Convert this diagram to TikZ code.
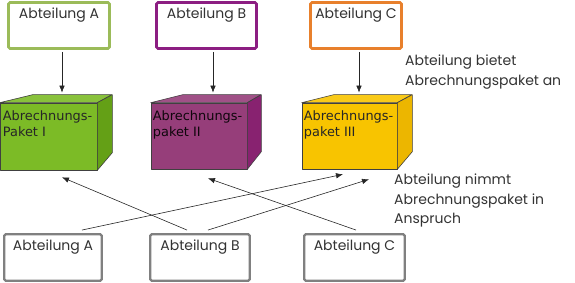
\documentclass[tikz,border=0pt]{standalone}
\usepackage{fontspec}
\usetikzlibrary{arrows.meta,calc}
\newfontfamily\cubefont{DejaVu Sans}
\newfontfamily\advfont{Poppins}
\definecolor{cgreen}{RGB}{155,187,89}
\definecolor{cpurple}{RGB}{140,30,130}
\definecolor{corange}{RGB}{232,128,44}
\definecolor{cgray}{RGB}{128,128,128}
\definecolor{gfront}{RGB}{124,187,38}
\definecolor{gside}{RGB}{100,160,22}
\definecolor{pfront}{RGB}{150,62,122}
\definecolor{pside}{RGB}{136,34,112}
\definecolor{yfront}{RGB}{248,196,0}
\definecolor{yside}{RGB}{236,182,0}
\tikzset{
  abtbox/.style={draw, rounded corners=1.5pt, fill=white, inner xsep=0pt, inner ysep=3pt,
    text height=13pt, text depth=27pt, align=center, text=black!80,
    font=\advfont\fontsize{14}{16}\selectfont},
  topbox/.style={abtbox, line width=2.8pt},
  botbox/.style={abtbox, draw=cgray, line width=2.4pt, text depth=27.5pt},
  face/.style={draw=black!75, line width=0.6pt, line join=round},
  cubetext/.style={anchor=north west, inner sep=0pt, align=left, text=black!85,
    font=\cubefont\fontsize{12.9}{15.5}\selectfont},
  arr/.style={-{Latex[length=7pt,width=5.5pt]}, line width=0.6pt, draw=black!85},
  lbl/.style={anchor=north west, inner sep=0pt, align=left, text=black!80,
    font=\advfont\fontsize{14}{19.5}\selectfont}
}
\begin{document}
\begin{tikzpicture}[x=1pt,y=-1pt]
\useasboundingbox (0,0) rectangle (575,283);
% top boxes
\node[topbox, draw=cgreen, minimum width=101pt] (tA) at (59,25.5) {Abteilung A};
\node[topbox, draw=cpurple, minimum width=100pt] (tB) at (206.5,25.5) {Abteilung B};
\node[topbox, draw=corange, minimum width=91pt] (tC) at (356,25.5) {Abteilung C};
% cubes: front faces as nodes
\node[face, fill=gfront, minimum width=97pt, minimum height=67pt, inner sep=0pt] (fI) at (48.5,136.5) {};
\filldraw[face, fill=gfront!90!white] (fI.north west) -- ++(33,-8) -- ++(79,0) -- (fI.north east) -- cycle;
\filldraw[face, fill=gside] (fI.north east) -- ++(15,-8) -- ++(0,58) -- (fI.south east) -- cycle;
\node[cubetext] (xI) at ($(fI.north west)+(3,8)$) {Abrechnungs-\\Paket I};

\node[face, fill=pfront, minimum width=96pt, minimum height=66pt, inner sep=0pt] (fII) at (199,136) {};
\filldraw[face, fill=pfront!90!white] (fII.north west) -- ++(32,-8) -- ++(78,0) -- (fII.north east) -- cycle;
\filldraw[face, fill=pside] (fII.north east) -- ++(14,-8) -- ++(0,57) -- (fII.south east) -- cycle;
\node[cubetext, text=black!90!pfront] (xII) at ($(fII.north west)+(2,8)$) {Abrechnungs-\\paket II};

\node[face, fill=yfront, minimum width=95pt, minimum height=66pt, inner sep=0pt] (fIII) at (349.5,136) {};
\filldraw[face, fill=yfront!90!white] (fIII.north west) -- ++(32,-8) -- ++(78,0) -- (fIII.north east) -- cycle;
\filldraw[face, fill=yside] (fIII.north east) -- ++(15,-8) -- ++(0,57) -- (fIII.south east) -- cycle;
\node[cubetext] (xIII) at ($(fIII.north west)+(2,8)$) {Abrechnungs-\\paket III};
% bottom boxes
\node[botbox, minimum width=97.5pt] (bA) at (53,257.5) {Abteilung A};
\node[botbox, minimum width=99.5pt] (bB) at (200,257.5) {Abteilung B};
\node[botbox, minimum width=100.5pt] (bC) at (354.5,257.5) {Abteilung C};
% labels
\node[lbl] (l1) at (405,55) {Abteilung bietet\\Abrechnungspaket an};
\node[lbl] (l2) at (394,174) {Abteilung nimmt\\Abrechnungspaket in\\Anspruch};
% top arrows
\draw[arr] ($(tA.south)+(3,2)$) -- ($(tA.south |- fI.north)+(3,-10)$);
\draw[arr] ($(tB.south)+(6.5,2)$) -- ($(tB.south |- fII.north)+(6.5,-10)$);
\draw[arr] ($(tC.south)+(3,2)$) -- ($(tC.south |- fIII.north)+(3,-10)$);
% bottom arrows
\draw[arr] ($(bA.north)+(29,-3)$) -- ($(fIII.south)+(-6.5,5)$);
\draw[arr] ($(bB.north)+(8,-3)$) -- ($(fIII.south)+(19.5,10)$);
\draw[arr] ($(bB.north)+(-13,-3)$) -- ($(fI.south)+(13.5,7)$);
\draw[arr] ($(bC.north)+(1.5,-3)$) -- ($(fII.south)+(9,9)$);
\end{tikzpicture}
\end{document}
